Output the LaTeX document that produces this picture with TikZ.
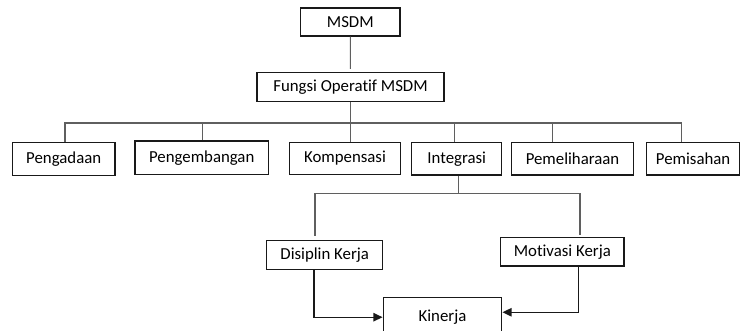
\documentclass[tikz,border=0pt]{standalone}
\usepackage{fontspec}
\setmainfont{Carlito}[Ligatures=NoCommon]
\usetikzlibrary{arrows.meta,positioning}
\definecolor{wire}{RGB}{95,95,95}
\definecolor{ink}{RGB}{25,25,25}
\tikzset{
  >={Triangle[length=2.4mm,width=2.2mm]},
  box/.style={draw=ink,line width=1.1pt,inner sep=0pt,align=center,
    font=\fontsize{12.6}{14}\selectfont},
  link/.style={draw=wire,line width=0.8pt},
  flow/.style={->,draw=ink,line width=1pt},
}

\begin{document}
\begin{tikzpicture}[x=0.75pt,y=-0.75pt]
  \useasboundingbox (0,0) rectangle (741,331);
  \clip (0,0) rectangle (741,331);
  % top of the chart
  \node[box,minimum width=74.5pt,minimum height=21pt] (msdm) at (350.3,22) {MSDM};
  \node[box,minimum width=140.3pt,minimum height=21.8pt] (fungsi) at (350.5,87.2) {Fungsi Operatif MSDM};
  % the six functions
  \node[box,minimum width=77pt,minimum height=25pt] (pgd) at (63.7,159) {Pengadaan};
  \node[box,minimum width=100pt,minimum height=25pt] (pgb) at (201.7,157.7) {Pengembangan};
  \node[box,minimum width=83.5pt,minimum height=24pt] (kmp) at (345,158.3) {Kompensasi};
  \node[box,minimum width=67.5pt,minimum height=24.5pt] (intg) at (456.7,158.7) {Integrasi};
  \node[box,minimum width=91.2pt,minimum height=24.5pt] (peml) at (572.5,158.7) {Pemeliharaan};
  \node[box,minimum width=69.6pt,minimum height=24.5pt] (pms) at (693.1,158.7) {Pemisahan};
  % lower part
  \node[box,minimum width=87pt,minimum height=21.5pt] (dsp) at (324.7,255) {Disiplin Kerja};
  \node[box,minimum width=92.5pt,minimum height=21.5pt] (mtv) at (562.3,251.7) {Motivasi Kerja};
  \node[box,minimum width=88.8pt,minimum height=29.8pt] (knj) at (442.5,317.2) {Kinerja};

  \draw[link,shorten >=2.2pt] (msdm) -- (fungsi);
  \draw[link] (fungsi.south) -- (fungsi.south |- kmp.north);
  \coordinate (busL) at (65,123);
  \coordinate (busR) at (681.7,123);
  \draw[link] (busL |- pgd.north) -- (busL) -- (busR) -- (busR |- pms.north);
  \foreach \x/\n in {202.3/pgb,454.3/intg,552.3/peml}{
    \coordinate (d\n) at (\x,123);
    \draw[link] (d\n) -- (d\n |- \n.north);
  }

  \coordinate (bl) at (315,193.5);
  \coordinate (br) at (580,193.5);
  \draw[link] (intg.south -| 458.3,0) -- (458.3,193.5);
  \draw[link] (bl) -- (br);
  \draw[link,shorten >=3pt] (bl) -- (bl |- dsp.north);
  \draw[link,shorten >=1.5pt] (br) -- (br |- mtv.north);

  \coordinate (al) at (314,0);
  \coordinate (ar) at (578.3,0);
  \draw[flow] (dsp.south -| al) |- (knj.west);
  \draw[flow] (mtv.south -| ar) |- ([yshift=3.7pt]knj.east);
\end{tikzpicture}
\end{document}
